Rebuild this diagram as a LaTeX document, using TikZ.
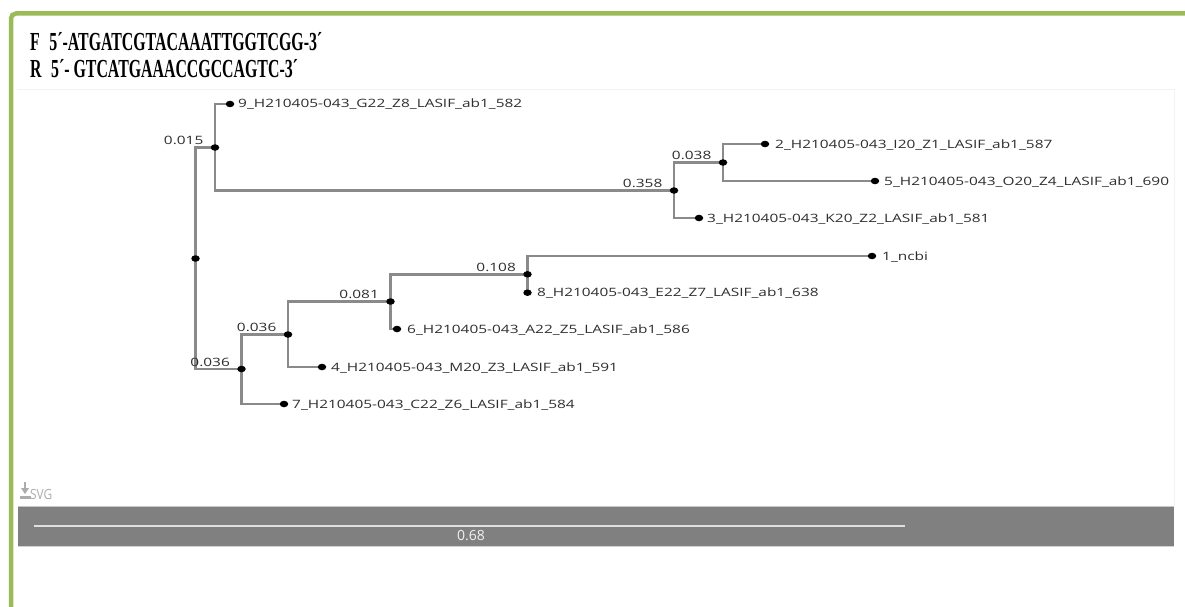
\documentclass[tikz,border=0pt]{standalone}
\usepackage{fontspec}
\setmainfont{Liberation Serif}
\newfontfamily\osans{Open Sans}
\usepackage{graphicx}
\usetikzlibrary{shapes.geometric}
\definecolor{grn}{HTML}{9BBB59}
\definecolor{brgray}{HTML}{8A8A8A}
\definecolor{txtg}{HTML}{2E2E2E}
\definecolor{barg}{HTML}{808080}
\newcommand{\tlab}[1]{\scalebox{1.34}[1]{#1}}
\pgfdeclarelayer{back}
\pgfdeclarelayer{lines}
\pgfsetlayers{back,lines,main}
\begin{document}
\begin{tikzpicture}[x=1pt,y=-1pt,
  br/.style={draw=brgray,line width=2.8pt},
  dotn/.style={ellipse,fill=black,inner sep=0pt,minimum width=8.5pt,minimum height=6.5pt},
  lbl/.style={font=\osans\fontsize{11.5}{13}\selectfont,text=txtg,inner sep=0pt,anchor=base west},
  blab/.style={font=\osans\fontsize{11.5}{13}\selectfont,text=txtg,inner sep=0pt,anchor=base east},
  ttl/.style={font=\bfseries\fontsize{26}{26}\selectfont,inner sep=0pt,anchor=base west}]
\useasboundingbox (0,0) rectangle (1185,607);
\begin{pgfonlayer}{back}
\fill[white] (0,0) rectangle (1185,607);
\draw[gray!10,line width=1pt] (17,90) -- (1174,90) -- (1174,506);
\end{pgfonlayer}
% green frame
\draw[grn,line width=4.5pt,rounded corners=5pt] (11,608) -- (11,13.5) -- (1186,13.5);
% titles
\node[ttl] (t1) at (30,51) {\scalebox{0.61}[1]{F\hspace{0.6em}5´-ATGATCGTACAAATTGGTCGG-3´}};
\node[ttl] (t2) at (30,78) {\scalebox{0.61}[1]{R\hspace{0.6em}5´- GTCATGAAACCGCCAGTC-3´}};
% tree nodes
\node[dotn] (R0) at (195.5,258.5) {};
\node[dotn] (A) at (215,147.5) {};
\node[dotn] (l9) at (230,104) {};
\node[dotn] (B) at (674,190.5) {};
\node[dotn] (G) at (723,162.5) {};
\node[dotn] (l2) at (765,144) {};
\node[dotn] (l5) at (875,181) {};
\node[dotn] (l3) at (699,218) {};
\node[dotn] (C) at (241.5,369) {};
\node[dotn] (D) at (288,334.5) {};
\node[dotn] (l7) at (284,404) {};
\node[dotn] (E) at (390.5,301.5) {};
\node[dotn] (l4) at (322,367) {};
\node[dotn] (F) at (527.5,274.3) {};
\node[dotn] (l6) at (397,329) {};
\node[dotn] (l1) at (872,256) {};
\node[dotn] (l8) at (527.5,292.7) {};
\begin{pgfonlayer}{lines}
\draw[br] (l9.center) -| (A.center) |- (B.center);
\draw[br] (A.center) -| (R0.center) |- (C.center);
\draw[br] (l2.center) -| (G.center) |- (l5.center);
\draw[br] (G.center) -| (B.center) |- (l3.center);
\draw[br] (D.center) -| (C.center) |- (l7.center);
\draw[br] (E.center) -| (D.center) |- (l4.center);
\draw[br] (F.center) -| (E.center) |- (l6.center);
\draw[br] (l1.center) -| (F.center) |- (l8.center);
\end{pgfonlayer}
% leaf labels
\node[lbl] (n9) at ([xshift=8pt,yshift=-4pt]l9.center) {\tlab{9\_H210405-043\_G22\_Z8\_LASIF\_ab1\_582}};
\node[lbl] (n2) at ([xshift=10pt,yshift=-4pt]l2.center) {\tlab{2\_H210405-043\_I20\_Z1\_LASIF\_ab1\_587}};
\node[lbl] (n5) at ([xshift=9pt,yshift=-4pt]l5.center) {\tlab{5\_H210405-043\_O20\_Z4\_LASIF\_ab1\_690}};
\node[lbl] (n3) at ([xshift=8pt,yshift=-4pt]l3.center) {\tlab{3\_H210405-043\_K20\_Z2\_LASIF\_ab1\_581}};
\node[lbl] (n1) at ([xshift=10pt,yshift=-4pt]l1.center) {\tlab{1\_ncbi}};
\node[lbl] (n8) at ([xshift=9.5pt,yshift=-4pt]l8.center) {\tlab{8\_H210405-043\_E22\_Z7\_LASIF\_ab1\_638}};
\node[lbl] (n6) at ([xshift=10pt,yshift=-4pt]l6.center) {\tlab{6\_H210405-043\_A22\_Z5\_LASIF\_ab1\_586}};
\node[lbl] (n4) at ([xshift=9pt,yshift=-4pt]l4.center) {\tlab{4\_H210405-043\_M20\_Z3\_LASIF\_ab1\_591}};
\node[lbl] (n7) at ([xshift=8pt,yshift=-4pt]l7.center) {\tlab{7\_H210405-043\_C22\_Z6\_LASIF\_ab1\_584}};
% branch lengths
\node[blab] (bA) at ([xshift=-11.5pt,yshift=3pt]A.center) {\tlab{0.015}};
\node[blab] (bB) at ([xshift=-11.5pt,yshift=3pt]B.center) {\tlab{0.358}};
\node[blab] (bG) at ([xshift=-11.5pt,yshift=3pt]G.center) {\tlab{0.038}};
\node[blab] (bC) at ([xshift=-11.5pt,yshift=3pt]C.center) {\tlab{0.036}};
\node[blab] (bD) at ([xshift=-11.5pt,yshift=3pt]D.center) {\tlab{0.036}};
\node[blab] (bE) at ([xshift=-11.5pt,yshift=3pt]E.center) {\tlab{0.081}};
\node[blab] (bF) at ([xshift=-11.5pt,yshift=3pt]F.center) {\tlab{0.108}};
% SVG link
\draw[gray!65,line width=1.8pt] (25,482) -- (25,490);
\fill[gray!65] (21,488) -- (29,488) -- (25,494) -- cycle;
\fill[gray!65] (19.5,495.5) rectangle (30.5,499);
\node[font=\osans\fontsize{14}{14}\selectfont,text=gray!65,inner sep=0pt,anchor=base west] (svg) at (30,499) {\scalebox{0.85}[1]{SVG}};
% scale bar
\fill[barg] (18,506) rectangle (1174,546);
\draw[gray!45,line width=1pt] (18,506) -- (1174,506);
\draw[gray!35,line width=1pt] (18,546.5) -- (1174,546.5);
\draw[gray!25,line width=2pt] (34,526) -- (905,526);
\node[font=\osans\fontsize{14}{14}\selectfont,text=gray!12,inner sep=0pt] (sc) at (471,536) {0.68};
\end{tikzpicture}
\end{document}
